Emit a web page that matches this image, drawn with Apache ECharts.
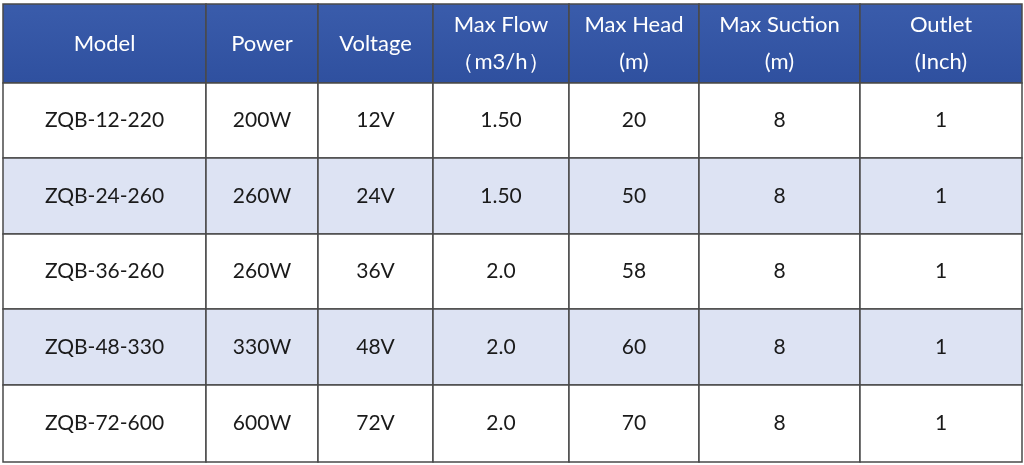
<!DOCTYPE html>
<html>
<head>
<meta charset="utf-8">
<script src="https://cdn.jsdelivr.net/npm/echarts@6/dist/echarts.min.js"></script>
<style>html,body{margin:0;padding:0;background:#fff}#c{width:1024px;height:465px}</style>
</head>
<body>
<div id="c"></div>
<script>
// ---- data ----
const headers = ['Model', 'Power', 'Voltage', 'Max Flow\n（m3/h）', 'Max Head\n(m)', 'Max Suction\n(m)', 'Outlet\n(Inch)'];
const models = ['ZQB-12-220', 'ZQB-24-260', 'ZQB-36-260', 'ZQB-48-330', 'ZQB-72-600'];
const powers = ['200W', '260W', '260W', '330W', '600W'];
const voltages = ['12V', '24V', '36V', '48V', '72V'];
const maxFlow = ['1.50', '1.50', '2.0', '2.0', '2.0'];
const maxHead = [20, 50, 58, 60, 70];
const maxSuction = [8, 8, 8, 8, 8];
const outlet = [1, 1, 1, 1, 1];

// ---- layout ----
const colEdges = [0, 203, 315, 430, 566, 696, 857, 1019];
const rowEdges = [0, 79, 154, 230, 305, 381, 458];

const columnsData = [models, powers, voltages, maxFlow, maxHead, maxSuction, outlet];
const cells = [];
headers.forEach((h, c) => cells.push({ value: [c, 0], text: h, header: true }));
for (let r = 0; r < models.length; r++) {
  columnsData.forEach((col, c) => cells.push({ value: [c, r + 1], text: String(col[r]), header: false }));
}

const chart = echarts.init(document.getElementById('c'));
chart.setOption({
  animation: false,
  grid: { left: 3, right: 2, top: 4, bottom: 3 },
  xAxis: { type: 'value', min: 0, max: colEdges[colEdges.length - 1], show: false },
  yAxis: { type: 'value', min: 0, max: rowEdges[rowEdges.length - 1], inverse: true, show: false },
  series: [{
    type: 'custom',
    data: cells,
    renderItem: function (params, api) {
      const c = api.value(0), r = api.value(1);
      const item = cells[params.dataIndex];
      const p0 = api.coord([colEdges[c], rowEdges[r]]);
      const p1 = api.coord([colEdges[c + 1], rowEdges[r + 1]]);
      const x = p0[0], y = p0[1], w = p1[0] - p0[0], h = p1[1] - p0[1];
      let fill;
      if (item.header) {
        fill = new echarts.graphic.LinearGradient(0, 0, 0, 1, [
          { offset: 0, color: '#3a5cab' }, { offset: 1, color: '#2f509f' }]);
      } else {
        fill = (r % 2 === 0) ? '#dde3f3' : '#ffffff';
      }
      return {
        type: 'group',
        children: [
          { type: 'rect', shape: { x: x, y: y, width: w, height: h },
            style: { fill: fill, stroke: '#4a4a4a', lineWidth: 1.5 } },
          { type: 'text', x: x + w / 2, y: y + h / 2,
            style: {
              text: item.text, align: 'center', verticalAlign: 'middle',
              fill: item.header ? '#ffffff' : '#1a1a1a',
              font: (item.header ? '22px' : '21px') + ' Lato, "Noto Sans", sans-serif',
              lineHeight: 37
            } }
        ]
      };
    }
  }]
});
</script>
</body>
</html>
